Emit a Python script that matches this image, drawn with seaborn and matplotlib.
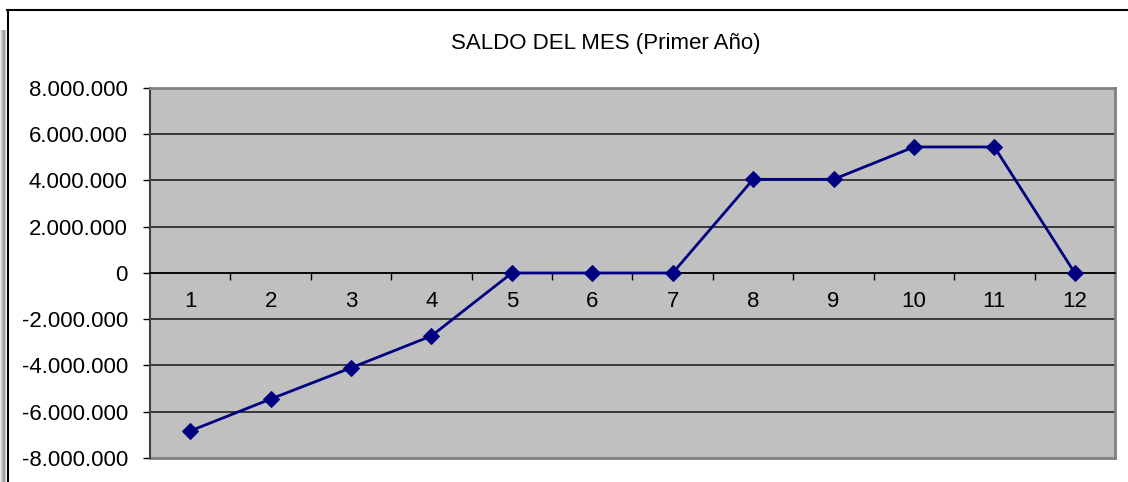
import matplotlib
matplotlib.use("Agg")
import matplotlib.pyplot as plt
import matplotlib.ticker as mticker
from matplotlib.lines import Line2D
from matplotlib.patches import Rectangle
import pandas as pd
import seaborn as sns

# datos
meses = [1, 2, 3, 4, 5, 6, 7, 8, 9, 10, 11, 12]
saldo = [-6830000, -5450000, -4100000, -2720000, 0, 0, 0,
         4050000, 4050000, 5450000, 5450000, 0]
y_ticks = [-8000000, -6000000, -4000000, -2000000, 0,
           2000000, 4000000, 6000000, 8000000]
titulo = "SALDO DEL MES (Primer Año)"

plt.rcParams['font.family'] = ['Liberation Sans', 'DejaVu Sans']

df = pd.DataFrame({"Mes": meses, "Saldo": saldo})

W, H = 1128, 482
fig = plt.figure(figsize=(W / 100, H / 100), dpi=100)
ax = fig.add_axes([150 / W, 1 - 458 / H, (1115 - 150) / W, (458 - 88) / H])
ax.set_facecolor('#c0c0c0')

sns.lineplot(data=df, x="Mes", y="Saldo", ax=ax, color='#000080', lw=2,
             marker='D', markersize=8.5, markeredgecolor='#000080', zorder=5)

ax.set_xlim(0.5, 12.5)
ax.set_ylim(-8000000, 8000000)
ax.set_xlabel('')
ax.set_ylabel('')

# grid horizontal (estilo excel)
for v in y_ticks[1:-1]:
    ax.axhline(v, color='#222222', lw=1.2, zorder=1)

ax.set_yticks(y_ticks)
ax.yaxis.set_major_formatter(mticker.FuncFormatter(lambda v, p: f"{v:,.0f}".replace(",", ".")))
ax.tick_params(axis='y', length=5, width=1, pad=11, labelsize=16, color='black')

# eje x cruza en cero, marcas entre categorias
ax.set_xticks(meses)
ax.set_xticks([m + 0.5 for m in meses[:-1]], minor=True)
ax.tick_params(axis='x', which='major', length=0, pad=13, labelsize=16)
ax.tick_params(axis='x', which='minor', length=5, width=1, direction='out', color='black')
ax.spines['bottom'].set_position(('data', 0))
ax.spines['bottom'].set_color('black')
ax.spines['bottom'].set_linewidth(1.2)
for s in ['top', 'right']:
    ax.spines[s].set_color('#808080')
    ax.spines[s].set_linewidth(2)
ax.spines['left'].set_color('#404040')
ax.spines['left'].set_linewidth(1.5)
ax.plot([0, 1], [0, 0], transform=ax.transAxes, color='#808080', lw=2, clip_on=False)

fig.text(606 / W, 1 - 44 / H, titulo, ha='center', va='center', fontsize=16)

# marco del grafico con sombra a la izquierda
for i, c in enumerate(['#e6e6e6', '#d0d0d0', '#b8b8b8', '#a4a4a4', '#9a9a9a', '#c8c8c8']):
    fig.add_artist(Rectangle((i / W, 0), 1.05 / W, 1 - 30 / H, transform=fig.transFigure,
                             facecolor=c, edgecolor='none'))
fig.add_artist(Line2D([7 / W, 1], [1 - 9.5 / H] * 2, transform=fig.transFigure, color='black', lw=1.5))
fig.add_artist(Line2D([7.5 / W] * 2, [0, 1 - 9.5 / H], transform=fig.transFigure, color='black', lw=1.5))

fig.savefig("out.png", dpi=100)
